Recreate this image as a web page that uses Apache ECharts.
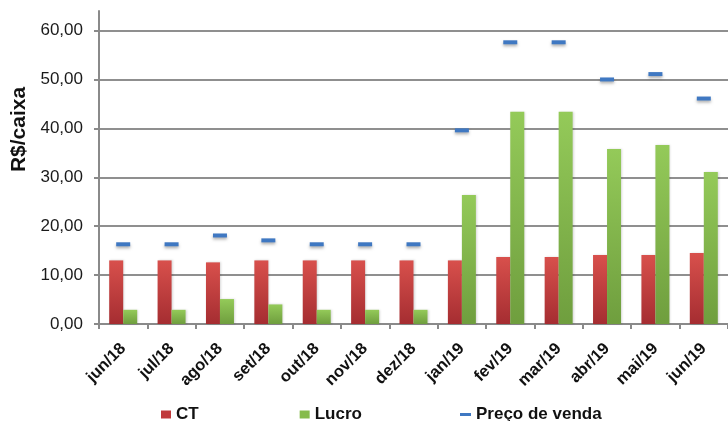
<!DOCTYPE html>
<html>
<head>
<meta charset="utf-8">
<script src="https://cdn.jsdelivr.net/npm/echarts@6/dist/echarts.min.js"></script>
<style>html,body{margin:0;padding:0;background:#fff}#c{width:728px;height:421px}</style>
</head>
<body>
<div id="c"></div>
<script>
const categories = ['jun/18','jul/18','ago/18','set/18','out/18','nov/18','dez/18','jan/19','fev/19','mar/19','abr/19','mai/19','jun/19'];
const ctValues = [13.0, 13.0, 12.6, 13.0, 13.0, 13.0, 13.0, 13.0, 13.7, 13.7, 14.1, 14.1, 14.5];
const lucroValues = [2.9, 2.9, 5.1, 4.0, 2.9, 2.9, 2.9, 26.4, 43.4, 43.4, 35.8, 36.6, 31.1];
const precoValues = [16.3, 16.3, 18.1, 17.1, 16.3, 16.3, 16.3, 39.6, 57.6, 57.6, 50.0, 51.1, 46.1];
const yTicks = [0, 10, 20, 30, 40, 50, 60];

const chart = echarts.init(document.getElementById('c'), null, {renderer: 'canvas'});
const font = 'Liberation Sans, Arial, Helvetica, sans-serif';
const redGrad = new echarts.graphic.LinearGradient(0,0,0,1,[{offset:0,color:'#d8504c'},{offset:1,color:'#a52d31'}]);
const greenGrad = new echarts.graphic.LinearGradient(0,0,0,1,[{offset:0,color:'#94ca59'},{offset:1,color:'#6f9e3e'}]);

chart.setOption({
  animation: false,
  backgroundColor: '#ffffff',
  grid: {left: 99, top: 11, width: 637, height: 313, containLabel: false},
  legend: [{
    data: [{name:'CT', icon:'rect', itemStyle:{color:'#c0393b'}}, {name:'Lucro', icon:'rect', itemStyle:{color:'#86bb4c'}}],
    left: 156, top: 401, itemWidth: 10, itemHeight: 8, itemGap: 101,
    textStyle: {fontFamily: font, fontWeight: 'bold', fontSize: 17, color: '#111'}
  },{
    data: [{name:'Preço de venda', icon:'rect', itemStyle:{color:'#3f78c2'}}],
    left: 455, top: 401, itemWidth: 11, itemHeight: 3, itemGap: 5,
    textStyle: {fontFamily: font, fontWeight: 'bold', fontSize: 17, color: '#111'}
  }],
  xAxis: {
    type: 'category',
    data: categories,
    boundaryGap: true,
    axisLine: {lineStyle: {color: '#8a8a8a', width: 2}},
    axisTick: {show: true, alignWithLabel: false, length: 5, lineStyle: {color: '#8a8a8a', width: 2}},
    axisLabel: {rotate: 45, margin: 22, interval: 0, fontFamily: font, fontWeight: 'bold', fontSize: 16.5, color: '#111'}
  },
  yAxis: {
    type: 'value',
    min: 0, max: 64, interval: 10,
    name: 'R$/caixa',
    nameLocation: 'middle',
    nameGap: 58,
    nameRotate: 90,
    nameTextStyle: {fontFamily: font, fontWeight: 'bold', fontSize: 21, color: '#111', padding: [0,0,0,76]},
    axisLine: {show: true, lineStyle: {color: '#8a8a8a', width: 2}},
    axisTick: {show: true, length: 5, lineStyle: {color: '#8a8a8a', width: 2}},
    axisLabel: {
      showMaxLabel: false, margin: 16, fontFamily: font, fontSize: 17, color: '#1a1a1a',
      formatter: v => yTicks.includes(v) ? v.toFixed(2).replace('.', ',') : ''
    },
    splitLine: {show: true, showMaxLine: false, lineStyle: {color: '#8f8f8f', width: 2}}
  },
  series: [{
    name: 'CT', type: 'bar', data: ctValues, barWidth: 14, barGap: '0%',
    itemStyle: {color: redGrad, shadowBlur: 2, shadowColor: 'rgba(0,0,0,0.15)', shadowOffsetX: 1}
  },{
    name: 'Lucro', type: 'bar', data: lucroValues, barWidth: 14, barGap: '0%',
    itemStyle: {color: greenGrad, shadowBlur: 2, shadowColor: 'rgba(0,0,0,0.15)', shadowOffsetX: 1}
  },{
    name: 'Preço de venda', type: 'scatter', data: precoValues,
    symbol: 'rect', symbolSize: [14, 4],
    itemStyle: {color: '#3f78c2', shadowBlur: 3, shadowOffsetY: 2, shadowColor: 'rgba(0,0,0,0.3)', opacity: 1}
  }]
});
</script>
</body>
</html>
